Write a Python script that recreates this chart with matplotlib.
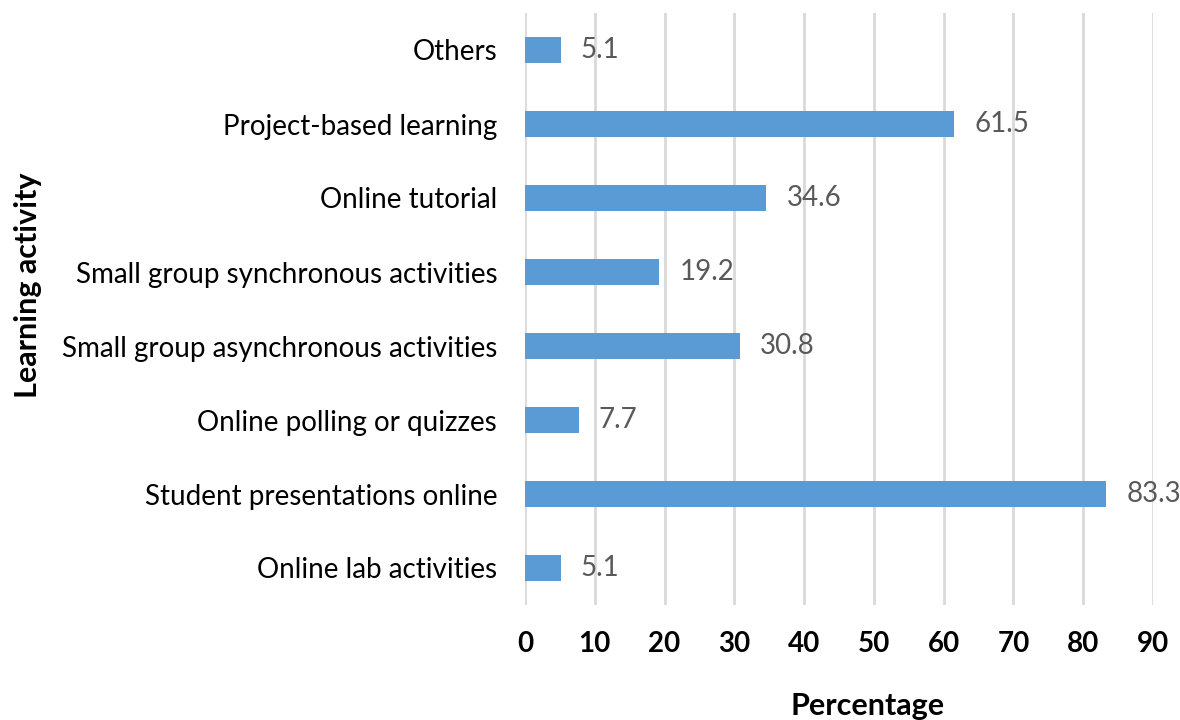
import matplotlib.pyplot as plt

categories = ["Online lab activities", "Student presentations online",
              "Online polling or quizzes", "Small group asynchronous activities",
              "Small group synchronous activities", "Online tutorial",
              "Project-based learning", "Others"]
values = [5.1, 83.3, 7.7, 30.8, 19.2, 34.6, 61.5, 5.1]
xticks = [0, 10, 20, 30, 40, 50, 60, 70, 80, 90]

plt.rcParams['font.family'] = ['Lato', 'DejaVu Sans']

fig = plt.figure(figsize=(11.8, 7.2), dpi=100)
ax = fig.add_axes([525 / 1180, 1 - 605 / 720, (1153 - 525) / 1180, (605 - 13) / 720])

ypos = list(range(len(categories)))
bars = ax.barh(ypos, values, height=0.35, color='#5b9bd5', zorder=3)

for b, v in zip(bars, values):
    ax.text(b.get_width() + 2.9, b.get_y() + b.get_height() / 2, f"{v:.1f}",
            va='center', ha='left', fontsize=20, color='#595959')

ax.set_xlim(0, 90)
ax.set_ylim(-0.5, len(categories) - 0.5)
ax.set_xticks(xticks)
ax.set_xticklabels([str(t) for t in xticks], fontsize=20, fontweight='bold')
ax.set_yticks(ypos)
ax.set_yticklabels(categories, fontsize=20)
ax.tick_params(axis='both', length=0)
ax.tick_params(axis='x', pad=19)
ax.tick_params(axis='y', pad=20)
ax.grid(axis='x', color='#d9d9d9', linewidth=2, zorder=0)
for s in ax.spines.values():
    s.set_visible(False)

fig.text(868 / 1180, 1 - 706 / 720, "Percentage", ha='center', va='center',
         fontsize=22, fontweight='bold')
fig.text(28 / 1180, 1 - 285 / 720, "Learning activity", ha='center', va='center',
         rotation=90, fontsize=22, fontweight='bold')

fig.savefig("out.png", dpi=100)
